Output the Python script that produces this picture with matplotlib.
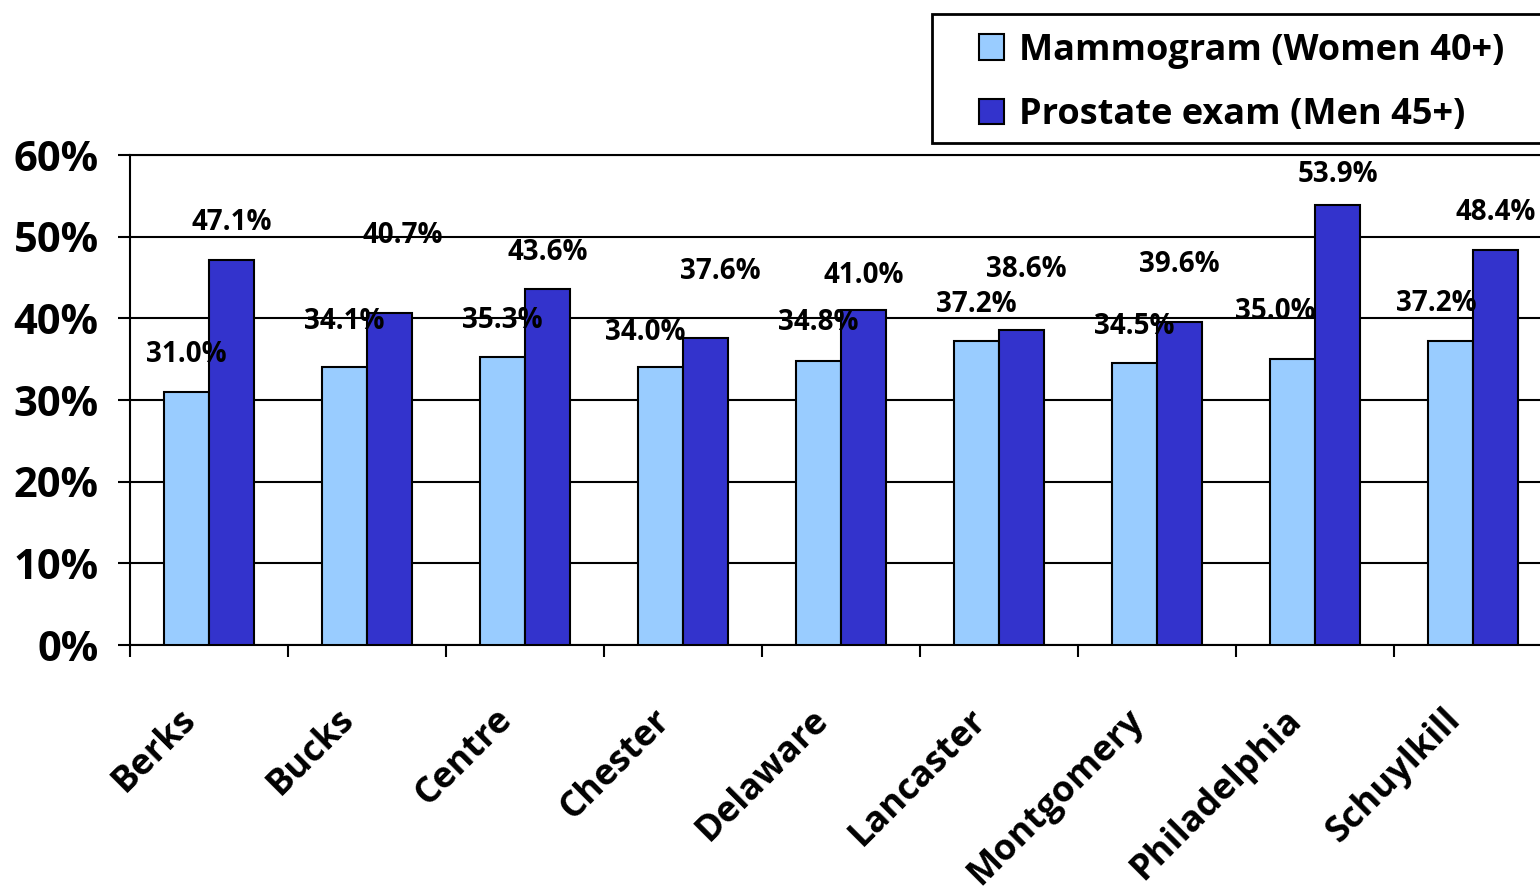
import matplotlib
matplotlib.use("Agg")
import matplotlib.pyplot as plt
from matplotlib.patches import Rectangle
import matplotlib.transforms as mtransforms
import numpy as np

counties = ["Berks", "Bucks", "Centre", "Chester", "Delaware", "Lancaster",
            "Montgomery", "Philadelphia", "Schuylkill"]
mammogram = [31.0, 34.1, 35.3, 34.0, 34.8, 37.2, 34.5, 35.0, 37.2]
prostate = [47.1, 40.7, 43.6, 37.6, 41.0, 38.6, 39.6, 53.9, 48.4]
series_names = ["Mammogram (Women 40+)", "Prostate exam (Men 45+)"]
yticks = [0, 10, 20, 30, 40, 50, 60]

# label offsets (pixels) relative to bar top-centre, as placed in the original
mam_dx = [0, 0, 0, -15, 0, 0, 0, -17, -14]
mam_dy = [37, 45, 36, 35, 38, 37, 37, 48, 38]
pro_dx = [0, 13, 0, 15, 0, 5, 0, 0, 0]
pro_dy = [38, 77, 36, 66, 35, 60, 57, 30, 37]

FONT = ['Open Sans', 'DejaVu Sans']
plt.rcParams['font.family'] = FONT
plt.rcParams['font.weight'] = 'bold'

W, H = 1540, 896
fig = plt.figure(figsize=(W / 100, H / 100), dpi=100)
ax = fig.add_axes([130 / W, (H - 645) / H, 1422 / W, 490 / H])

light = "#99CCFF"
dark = "#3333CC"
x = np.arange(len(counties))
bw = 45 / 158

ax.set_axisbelow(True)
ax.yaxis.grid(True, color="black", linewidth=1.5)
b1 = ax.bar(x - bw / 2, mammogram, width=bw, color=light, edgecolor="black",
            linewidth=1.5, label=series_names[0], zorder=3)
b2 = ax.bar(x + bw / 2, prostate, width=bw, color=dark, edgecolor="black",
            linewidth=1.5, label=series_names[1], zorder=3)

for i in range(len(counties)):
    ax.annotate(f"{mammogram[i]:.1f}%", (x[i] - bw / 2, mammogram[i]),
                xytext=(mam_dx[i], mam_dy[i]), textcoords="offset pixels",
                ha="center", va="center", fontsize=20, fontweight="bold",
                family=FONT, zorder=5)
    ax.annotate(f"{prostate[i]:.1f}%", (x[i] + bw / 2, prostate[i]),
                xytext=(pro_dx[i], pro_dy[i]), textcoords="offset pixels",
                ha="center", va="center", fontsize=20, fontweight="bold",
                family=FONT, zorder=5)

ax.set_xlim(-0.5, len(counties) - 0.5)
ax.set_ylim(0, 60)
ax.set_yticks(yticks)
ax.set_yticklabels([f"{v}%" for v in yticks], fontsize=30, fontweight="bold")
ax.tick_params(axis="y", length=8.6, width=1.5, pad=14)

ax.set_xticks(x)
ax.set_xticklabels(counties, fontsize=26, fontweight="bold")
ax.set_xticks(np.arange(-0.5, len(counties), 1), minor=True)
ax.tick_params(axis="x", which="major", length=0, pad=50)
ax.tick_params(axis="x", which="minor", length=8.6, width=1.5)
shift = mtransforms.ScaledTranslation(-18 / 100, 0, fig.dpi_scale_trans)
for lab in ax.get_xticklabels():
    lab.set_rotation(45)
    lab.set_ha("right")
    lab.set_va("center")
    lab.set_rotation_mode("anchor")
    lab.set_transform(lab.get_transform() + shift)

for s in ax.spines.values():
    s.set_linewidth(1.5)
    s.set_color("black")

# legend frame
fig.patches.append(Rectangle((932 / W, 1 - 143 / H), (1548 - 932) / W, 129 / H,
                             transform=fig.transFigure, facecolor="white",
                             edgecolor="black", linewidth=2, zorder=1))
leg = fig.legend(handles=[b1, b2], loc="center left",
                 bbox_to_anchor=(979 / W, 1 - 83 / H),
                 fontsize=26, frameon=False,
                 handlelength=0.7, handleheight=0.7, handletextpad=0.4,
                 borderpad=0, labelspacing=0.8, borderaxespad=0)
for t in leg.get_texts():
    t.set_fontweight("bold")

fig.savefig("out.png", dpi=100)
